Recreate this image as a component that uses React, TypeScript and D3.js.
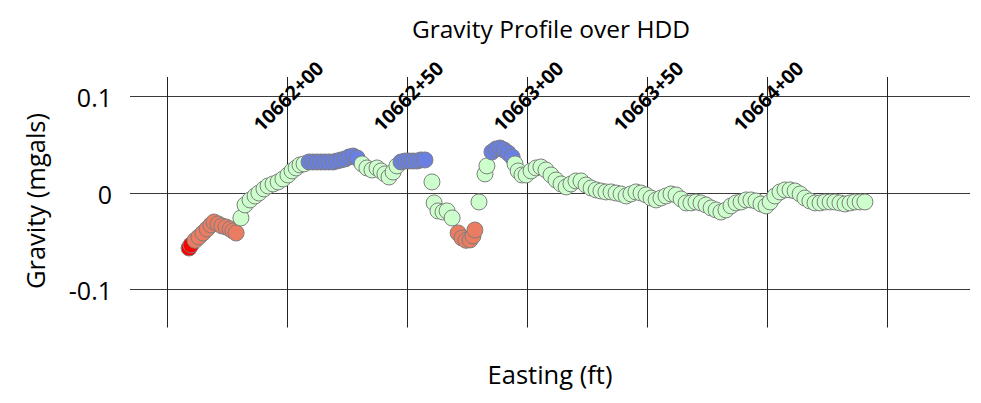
import React from "react";
import * as d3 from "d3";

// Survey eastings (ft) along the HDD alignment
const easting: number[] = [
  1066159.2, 1066160.0, 1066161.7, 1066163.3, 1066165.0, 1066166.7, 1066168.3, 1066169.6, 1066171.3, 1066172.9,
  1066174.6, 1066176.3, 1066177.5, 1066178.8, 1066180.8, 1066182.5, 1066184.6, 1066186.7, 1066188.3, 1066190.4,
  1066192.1, 1066194.2, 1066196.3, 1066198.3, 1066200.4, 1066202.1, 1066203.8, 1066205.4, 1066207.1, 1066209.2,
  1066210.8, 1066212.5, 1066214.2, 1066215.8, 1066217.5, 1066219.2, 1066220.8, 1066222.5, 1066224.2, 1066225.8,
  1066227.5, 1066229.2, 1066231.3, 1066233.3, 1066235.4, 1066237.5, 1066239.2, 1066240.8, 1066242.5, 1066244.2,
  1066245.8, 1066247.5, 1066249.2, 1066250.8, 1066252.5, 1066254.2, 1066255.8, 1066257.5, 1066260.4, 1066261.3,
  1066262.9, 1066265.0, 1066266.7, 1066268.8, 1066271.3, 1066272.9, 1066274.6, 1066276.3, 1066277.5, 1066278.3,
  1066280.0, 1066282.5, 1066283.3, 1066285.4, 1066287.1, 1066288.8, 1066290.4, 1066292.1, 1066293.8, 1066295.0,
  1066296.3, 1066297.9, 1066299.6, 1066301.7, 1066303.8, 1066305.8, 1066307.9, 1066310.0, 1066312.1, 1066314.2,
  1066316.3, 1066318.3, 1066320.4, 1066322.5, 1066324.6, 1066326.7, 1066328.8, 1066330.8, 1066332.9, 1066335.0,
  1066337.1, 1066339.2, 1066341.3, 1066343.3, 1066345.4, 1066347.5, 1066349.6, 1066351.7, 1066353.8, 1066355.8,
  1066357.9, 1066360.0, 1066362.1, 1066364.2, 1066366.3, 1066368.3, 1066370.4, 1066372.5, 1066374.6, 1066376.7,
  1066378.8, 1066380.8, 1066382.9, 1066385.0, 1066387.1, 1066389.2, 1066391.3, 1066393.3, 1066395.4, 1066397.5,
  1066399.6, 1066401.3, 1066403.3, 1066405.4, 1066407.5, 1066409.6, 1066411.7, 1066413.8, 1066415.8, 1066417.9,
  1066420.0, 1066422.1, 1066424.2, 1066426.3, 1066428.3, 1066430.4, 1066432.5, 1066434.6, 1066436.7, 1066438.8,
  1066440.8,
];

// Residual gravity (mgals) at each easting
const gravity: number[] = [
  -0.0575, -0.0543, -0.0495, -0.0460, -0.0419, -0.0377, -0.0335, -0.0305, -0.0325, -0.0346,
  -0.0357, -0.0377, -0.0398, -0.0419, -0.0263, -0.0128, -0.0076, -0.0035, -0.0004, 0.0038,
  0.0069, 0.0090, 0.0111, 0.0142, 0.0183, 0.0225, 0.0256, 0.0287, 0.0298, 0.0318,
  0.0318, 0.0318, 0.0318, 0.0318, 0.0318, 0.0318, 0.0328, 0.0339, 0.0349, 0.0370,
  0.0380, 0.0360, 0.0298, 0.0256, 0.0235, 0.0256, 0.0225, 0.0194, 0.0162, 0.0214,
  0.0277, 0.0318, 0.0328, 0.0328, 0.0328, 0.0328, 0.0339, 0.0339, 0.0111, -0.0107,
  -0.0190, -0.0201, -0.0190, -0.0263, -0.0419, -0.0471, -0.0495, -0.0491, -0.0450, -0.0388,
  -0.0097, 0.0194, 0.0277, 0.0422, 0.0453, 0.0463, 0.0443, 0.0412, 0.0370, 0.0298,
  0.0225, 0.0183, 0.0183, 0.0225, 0.0256, 0.0266, 0.0235, 0.0183, 0.0131, 0.0090,
  0.0059, 0.0090, 0.0121, 0.0121, 0.0079, 0.0048, 0.0028, 0.0017, 0.0007, 0.0007,
  -0.0004, -0.0014, -0.0035, -0.0014, 0.0007, -0.0004, -0.0024, -0.0056, -0.0076, -0.0056,
  -0.0035, -0.0014, -0.0024, -0.0066, -0.0107, -0.0107, -0.0097, -0.0107, -0.0128, -0.0159,
  -0.0180, -0.0201, -0.0180, -0.0138, -0.0107, -0.0097, -0.0076, -0.0076, -0.0087, -0.0118,
  -0.0138, -0.0097, -0.0035, 0.0007, 0.0028, 0.0028, 0.0017, -0.0014, -0.0056, -0.0087,
  -0.0107, -0.0107, -0.0097, -0.0097, -0.0097, -0.0107, -0.0118, -0.0107, -0.0097, -0.0097,
  -0.0097,
];

// Vertical gridlines (easting, ft) and the HDD stations marked on them
const gridEastings: number[] = [1066150, 1066200, 1066250, 1066300, 1066350, 1066400, 1066450];
const stationEastings: number[] = [1066200, 1066250, 1066300, 1066350, 1066400];
const stationLabels: string[] = ["10662+00", "10662+50", "10663+00", "10663+50", "10664+00"];

const yTicks: number[] = [0.1, 0, -0.1];
const yTickLabels: string[] = ["0.1", "0", "-0.1"];

const WIDTH = 981;
const HEIGHT = 403;
const FONT = "'Open Sans', 'Noto Sans', sans-serif";

function pointColor(v: number): string {
  if (v < -0.05) return "#ff0000";
  if (v < -0.03) return "#e97c61";
  if (v >= 0.03) return "#6a7fe2";
  return "#ccffcc";
}

export default function App() {
  const x = d3.scaleLinear().domain([1066150, 1066450]).range([167, 887]);
  const y = d3.scaleLinear().domain([-0.14, 0.12]).range([327.5, 77]);

  const plotLeft = 130;
  const plotRight = 970;
  const plotTop = y(0.12);
  const plotBottom = y(-0.14);

  const points = easting.map((e, i) => ({ e, g: gravity[i] }));

  return (
    <svg
      width={WIDTH}
      height={HEIGHT}
      viewBox={`0 0 ${WIDTH} ${HEIGHT}`}
      style={{ position: "absolute", left: 0, top: 0, background: "#fff" }}
    >
      <rect x={0} y={0} width={WIDTH} height={HEIGHT} fill="#fff" />

      <text x={551} y={38} textAnchor="middle" fontFamily={FONT} fontSize={24.5} fill="#000">
        Gravity Profile over HDD
      </text>

      {/* horizontal gridlines */}
      {yTicks.map((t) => (
        <line
          key={`h${t}`}
          x1={plotLeft}
          x2={plotRight}
          y1={Math.round(y(t)) + 0.5}
          y2={Math.round(y(t)) + 0.5}
          stroke="#3a3a3a"
          strokeWidth={1}
        />
      ))}

      {/* vertical gridlines */}
      {gridEastings.map((g) => (
        <line
          key={`v${g}`}
          x1={Math.round(x(g)) + 0.5}
          x2={Math.round(x(g)) + 0.5}
          y1={plotTop}
          y2={plotBottom}
          stroke="#222"
          strokeWidth={1}
        />
      ))}

      {/* y tick labels */}
      {yTicks.map((t, i) => (
        <text
          key={`yl${t}`}
          x={112}
          y={y(t) + 11}
          textAnchor="end"
          fontFamily={FONT}
          fontSize={25}
          fill="#000"
        >
          {yTickLabels[i]}
        </text>
      ))}

      <text
        transform={`translate(45, 201) rotate(-90)`}
        textAnchor="middle"
        fontFamily={FONT}
        fontSize={25.5}
        fill="#000"
      >
        Gravity (mgals)
      </text>

      <text x={550} y={384} textAnchor="middle" fontFamily={FONT} fontSize={25.5} fill="#000">
        Easting (ft)
      </text>

      {/* gravity stations */}
      {points.map((p, i) => (
        <circle
          key={`p${i}`}
          cx={x(p.e)}
          cy={y(p.g)}
          r={8}
          fill={pointColor(p.g)}
          stroke="#7f7f7f"
          strokeWidth={1}
        />
      ))}

      {/* HDD station labels */}
      {stationEastings.map((s, i) => (
        <text
          key={`s${s}`}
          transform={`translate(${x(s) + 1}, 96) rotate(-45)`}
          textAnchor="middle"
          dominantBaseline="central"
          fontFamily={FONT}
          fontWeight="bold"
          fontSize={19.5}
          fill="#000"
        >
          {stationLabels[i]}
        </text>
      ))}
    </svg>
  );
}
